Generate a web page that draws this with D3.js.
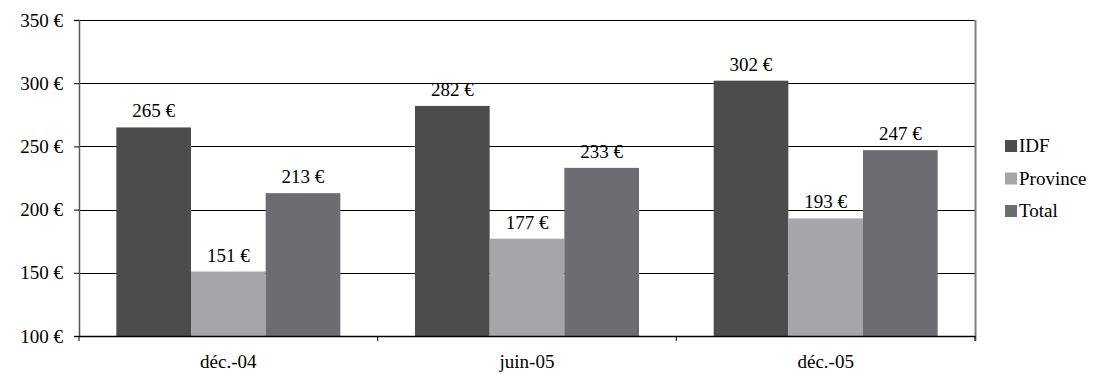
<!DOCTYPE html>
<html><head><meta charset="utf-8">
<script src="https://cdn.jsdelivr.net/npm/d3@7"></script>
<style>body{margin:0;background:#fff}svg{display:block}</style>
</head><body>
<svg id="c" width="1107" height="374"></svg>
<script>
const categories = ["déc.-04", "juin-05", "déc.-05"];
const seriesNames = ["IDF", "Province", "Total"];
const idf = [265, 282, 302];
const province = [151, 177, 193];
const total = [213, 233, 247];
const yTicks = [100, 150, 200, 250, 300, 350];
const colors = ["#4b4c4e", "#a5a6a9", "#6c6d71"];

const FONT = "'Liberation Serif', 'Times New Roman', Times, serif";
const FS = 19;
const values = [idf, province, total];
const svg = d3.select("#c");
const L = 79, R = 975, T = 20, B = 336;
const x0 = d3.scaleBand().domain(categories).range([L, R]).paddingInner(0.25).paddingOuter(0.125);
const x1 = d3.scaleBand().domain(seriesNames).range([0, x0.bandwidth()]);
const y = d3.scaleLinear().domain([100, 350]).range([B, T]);

function styleText(sel) {
  sel.attr("font-family", FONT).attr("font-size", FS).attr("fill", "#000");
}

svg.append("g").selectAll("line").data(yTicks.slice(1)).join("line")
  .attr("x1", L).attr("x2", R).attr("y1", d => Math.round(y(d)) + 0.5).attr("y2", d => Math.round(y(d)) + 0.5)
  .attr("stroke", "#000").attr("stroke-width", 1);
svg.append("line").attr("x1", R + 0.5).attr("x2", R + 0.5).attr("y1", T).attr("y2", B + 5)
  .attr("stroke", "#808080").attr("stroke-width", 2);

const groups = svg.append("g").selectAll("g").data(categories).join("g")
  .attr("transform", d => `translate(${x0(d)},0)`);
groups.selectAll("rect").data((d, i) => seriesNames.map((s, j) => ({s, v: values[j][i], j}))).join("rect")
  .attr("x", d => x1(d.s)).attr("width", x1.bandwidth())
  .attr("y", d => y(d.v)).attr("height", d => B - y(d.v))
  .attr("fill", d => colors[d.j]);
groups.selectAll("text").data((d, i) => seriesNames.map((s, j) => ({s, v: values[j][i], j}))).join("text")
  .attr("x", d => x1(d.s) + x1.bandwidth() / 2).attr("y", d => y(d.v) - 10)
  .attr("text-anchor", "middle").text(d => d.v + " €").call(styleText);

const ya = svg.append("g").attr("transform", `translate(${L},0)`)
  .call(d3.axisLeft(y).tickValues(yTicks).tickSize(5).tickPadding(11).tickFormat(d => d + " €"));
ya.attr("font-family", null).attr("font-size", null);
ya.select(".domain").attr("stroke", "#555").attr("stroke-width", 1.5);
ya.selectAll(".tick line").attr("stroke", "#000");
ya.selectAll("text").call(styleText);

const xa = svg.append("g").attr("transform", `translate(0,${B})`)
  .call(d3.axisBottom(x0).tickSize(0).tickPadding(19));
xa.attr("font-family", null).attr("font-size", null);
xa.select(".domain").attr("stroke", "#000").attr("stroke-width", 1.5);
xa.selectAll("text").call(styleText);
const step = x0.step();
svg.append("g").selectAll("line").data(d3.range(categories.length + 1)).join("line")
  .attr("x1", i => L + i * step).attr("x2", i => L + i * step)
  .attr("y1", B).attr("y2", B + 5).attr("stroke", "#000");

const lg = svg.append("g").selectAll("g").data(seriesNames).join("g")
  .attr("transform", (d, i) => `translate(1005,${152 + i * 32.5})`);
lg.append("rect").attr("x", 0).attr("y", -12).attr("width", 12).attr("height", 12).attr("fill", (d, i) => colors[i]);
lg.append("text").attr("x", 14).attr("y", 0).text(d => d).call(styleText);
</script>
</body></html>
